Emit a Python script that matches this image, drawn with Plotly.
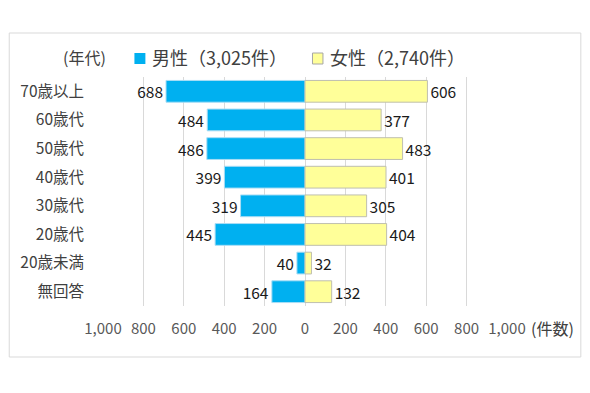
import plotly.graph_objects as go

categories = ["70歳以上", "60歳代", "50歳代", "40歳代", "30歳代", "20歳代", "20歳未満", "無回答"]
male = [688, 484, 486, 399, 319, 445, 40, 164]
female = [606, 377, 483, 401, 305, 404, 32, 132]
male_name = "男性（3,025件）"
female_name = "女性（2,740件）"
tick_vals = [-1000, -800, -600, -400, -200, 0, 200, 400, 600, 800, 1000]
tick_text = [f"{abs(v):,}" for v in tick_vals]

# page offset of the plot div (default body margin)
OFF = 8
W, H = 590 - 2 * OFF, 393 - 2 * OFF
L, R = 102.5 - OFF, 507.5 - OFF
T, B = 77.0 - OFF, 306.0 - OFF
FONT = "Noto Sans CJK JP, Meiryo, sans-serif"


def px(x):
    return (x - OFF - L) / (R - L)


def py(y):
    return (B - (y - OFF)) / (B - T)


fig = go.Figure()
fig.add_trace(go.Bar(
    y=categories, x=[-v for v in male], orientation="h",
    text=[str(v) for v in male], textposition="outside", constraintext="none",
    outsidetextfont=dict(size=15.5, color="#1a1a1a", family=FONT),
    marker=dict(color="#00B0F0", line=dict(color="#A9DDF5", width=1)),
    width=0.76, showlegend=False, cliponaxis=False, name=male_name,
))
fig.add_trace(go.Bar(
    y=categories, x=female, orientation="h",
    text=[str(v) for v in female], textposition="outside", constraintext="none",
    outsidetextfont=dict(size=15.5, color="#1a1a1a", family=FONT),
    marker=dict(color="#FFFF99", line=dict(color="#BFBFAF", width=1)),
    width=0.76, showlegend=False, cliponaxis=False, name=female_name,
))

shapes = [
    dict(type="rect", xref="paper", yref="paper",
         x0=px(OFF + 0.5), x1=px(581.5), y0=py(357), y1=py(33),
         line=dict(color="#D9D9D9", width=1), fillcolor="rgba(0,0,0,0)", layer="below"),
    dict(type="rect", xref="paper", yref="paper",
         x0=px(134), x1=px(145), y0=py(64), y1=py(53),
         line=dict(width=0), fillcolor="#00B0F0"),
    dict(type="rect", xref="paper", yref="paper",
         x0=px(312.5), x1=px(323), y0=py(64), y1=py(53),
         line=dict(color="#A6A6A6", width=1), fillcolor="#FFFF99"),
]

annotations = [
    dict(text="(年代)", x=px(108), y=py(57), xref="paper", yref="paper",
         xanchor="right", yanchor="middle", showarrow=False,
         font=dict(size=16, color="#404040", family=FONT)),
    dict(text=male_name, x=px(149.5), y=py(57), xref="paper", yref="paper",
         xanchor="left", yanchor="middle", showarrow=False,
         font=dict(size=18, color="#404040", family=FONT)),
    dict(text=female_name, x=px(328), y=py(57), xref="paper", yref="paper",
         xanchor="left", yanchor="middle", showarrow=False,
         font=dict(size=18, color="#404040", family=FONT)),
    dict(text="(件数)", x=px(530), y=py(328), xref="paper", yref="paper",
         xanchor="left", yanchor="middle", showarrow=False,
         font=dict(size=16, color="#404040", family=FONT)),
]

fig.update_layout(
    width=W, height=H,
    margin=dict(l=L, r=W - R, t=T, b=H - B, pad=0, autoexpand=False),
    paper_bgcolor="white", plot_bgcolor="white",
    barmode="overlay",
    font=dict(family=FONT, color="#404040"),
    shapes=shapes, annotations=annotations,
    xaxis=dict(range=[-1000, 1000], tickvals=tick_vals, ticktext=tick_text,
               showgrid=True, gridcolor="#D9D9D9", gridwidth=1,
               zeroline=True, zerolinecolor="#D9D9D9", zerolinewidth=1,
               showline=False, ticks="", ticklabelstandoff=12, automargin=False,
               tickfont=dict(size=15, color="#595959", family=FONT),
               fixedrange=True),
    yaxis=dict(autorange="reversed", showgrid=False, zeroline=False,
               showline=False, ticks="", ticklabelstandoff=18, automargin=False,
               tickfont=dict(size=15.5, color="#404040", family=FONT),
               fixedrange=True),
)

fig.write_html("out.html")
